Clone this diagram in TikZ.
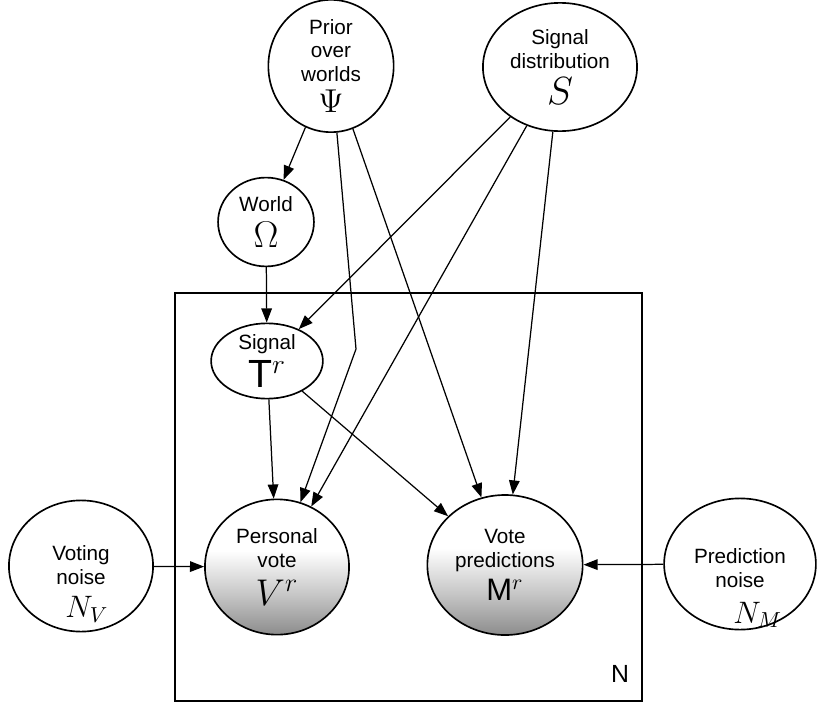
\RequirePackage{fix-cm}
\documentclass[tikz,border=0pt]{standalone}
\usepackage{fontspec}
\setmainfont{Liberation Sans}
\usetikzlibrary{arrows.meta,shapes.geometric}

\newcommand{\sym}[2]{{\fontsize{#1}{#1}\selectfont #2}}
\pgfdeclareverticalshading{obsfill}{100bp}{color(0bp)=(black!45); color(25bp)=(black!45);
  color(40bp)=(black!22); color(56bp)=(white); color(100bp)=(white)}

\begin{document}
\begin{tikzpicture}[
  x=0.017cm, y=-0.017cm,
  font=\fontsize{10}{11.5}\selectfont,
  var/.style={draw, ellipse, line width=0.8pt, inner sep=0pt, align=center},
  obs/.style={var, shade, shading=obsfill},
  lbl/.style={align=center, inner sep=0pt},
  plate/.style={draw, rectangle, line width=0.8pt, inner sep=0pt},
  arrow/.style={-{Triangle[length=2.4mm,width=1.8mm]}, line width=0.6pt}
]
\useasboundingbox (0,0) rectangle (817,703);

\node[plate, minimum width=7.94cm, minimum height=6.94cm] (box) at (408.5,497) {};
\node (boxlabel) at (620,674) {\sym{12}{N}};

\node[var, minimum width=2.13cm, minimum height=1.94cm] (prior) at (331,66)
  {Prior\\over\\worlds\\[3.5pt]\sym{16}{$\Psi$}};
\node[var, minimum width=2.62cm, minimum height=2.18cm] (sigdist) at (560,67)
  {Signal\\distribution\\[3pt]\sym{19}{$S$}};
\node[var, minimum width=1.63cm, minimum height=1.51cm] (world) at (266,222)
  {World\\[4pt]\sym{18}{$\Omega$}};
\node[var, minimum width=1.9cm, minimum height=1.28cm] (signal) at (267,361)
  {Signal\\[2pt]\sym{19}{T$^{r}$}};
\node[obs, minimum width=2.45cm, minimum height=2.3cm] (vote) at (277,567)
  {Personal\\vote\\[5pt]\sym{18}{$V^{r}$}};
\node[obs, minimum width=2.64cm, minimum height=2.38cm] (pred) at (505,565)
  {Vote\\predictions\\[2.5pt]\sym{15}{M$^{r}$}};
\node[var, minimum width=2.45cm, minimum height=2.23cm,
  label={[lbl, yshift=-0.31cm]center:{Voting\\noise\\[4.5pt]\hspace*{0.2cm}\sym{15}{$N_V$}}}]
  (vnoise) at (81,566) {};
\node[var, minimum width=2.58cm, minimum height=2.23cm,
  label={[lbl, yshift=-0.41cm]center:{Prediction\\noise\\[6pt]\hspace*{0.6cm}\sym{15}{$N_M$}}}]
  (pnoise) at (740,564) {};

\coordinate (kink) at (356,349);

\draw[arrow] (prior) -- (world);
\draw[arrow] (prior) -- (kink) -- (vote);
\draw[arrow] (prior) -- (pred);
\draw[arrow] (sigdist) -- (signal);
\draw[arrow] (sigdist) -- (vote);
\draw[arrow] (sigdist) -- (pred);
\draw[arrow] (world) -- (signal);
\draw[arrow] (signal) -- (vote);
\draw[arrow] (signal) -- (pred);
\draw[arrow] (vnoise) -- (vote);
\draw[arrow] (pnoise) -- (pred);

\end{tikzpicture}
\end{document}
